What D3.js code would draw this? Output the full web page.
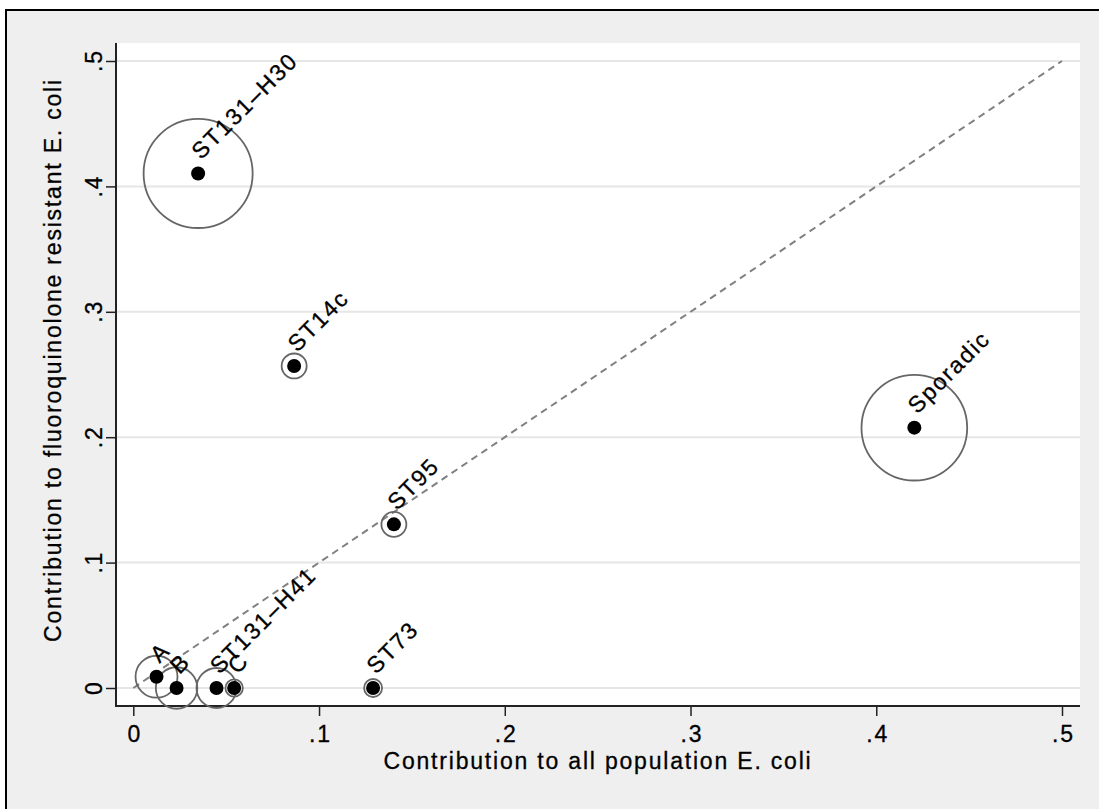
<!DOCTYPE html>
<html>
<head>
<meta charset="utf-8">
<script src="https://cdn.jsdelivr.net/npm/d3@7"></script>
<style>
    body { margin: 0; background: #fff; }
    text { font-family: "Liberation Sans", Arial, Helvetica, sans-serif; fill: #000; }
    .lbl { font-size: 23px; letter-spacing: 1.8px; stroke: #000; stroke-width: 0.3px; }
</style>
</head>
<body>
<div id="scatter"></div>
<script>
// Data
const clones = ["A", "B", "ST131\u2013H41", "C", "ST73", "ST14c", "ST95", "ST131\u2013H30", "Sporadic"];
const allPop = [0.0125, 0.0233, 0.0448, 0.0543, 0.1291, 0.0866, 0.1403, 0.0349, 0.4205];
const fqResistant = [0.009, 0, 0, 0, 0, 0.2568, 0.1305, 0.4103, 0.2076];
const weights = [0.044, 0.043, 0.040, 0.0076, 0.0081, 0.0156, 0.0156, 0.297, 0.279];
const tickValues = [0, 0.1, 0.2, 0.3, 0.4, 0.5];
const tickLabels = ["0", ".1", ".2", ".3", ".4", ".5"];

const data = clones.map((c, i) => ({ name: c, x: allPop[i], y: fqResistant[i], w: weights[i] }));

const width = 1099, height = 809;
const plot = { left: 116, right: 1080, top: 43, bottom: 706 };

const svg = d3.select("#scatter")
    .append("svg")
    .attr("width", width)
    .attr("height", height);

// Outer graph region (grey) with border
svg.append("rect")
    .attr("x", 6).attr("y", 10)
    .attr("width", 1200).attr("height", 900)
    .attr("fill", "#efefef")
    .attr("stroke", "#000")
    .attr("stroke-width", 2);

// Plot region
svg.append("rect")
    .attr("x", plot.left).attr("y", plot.top)
    .attr("width", plot.right - plot.left)
    .attr("height", plot.bottom - plot.top)
    .attr("fill", "#fff");

const xScale = d3.scaleLinear().domain([0, 0.5]).range([133.3, 1062]);
const yScale = d3.scaleLinear().domain([0, 0.5]).range([688, 61]);
const rScale = d3.scaleSqrt().domain([0, 0.3]).range([0, 54.8]);
const fmt = d => tickLabels[tickValues.indexOf(d)];

// Gridlines
svg.append("g")
    .selectAll("line")
    .data(tickValues)
    .join("line")
    .attr("x1", plot.left).attr("x2", plot.right)
    .attr("y1", d => yScale(d)).attr("y2", d => yScale(d))
    .attr("stroke", "#e6e6e6")
    .attr("stroke-width", 2);

// Axes
const bottomAxis = d3.axisBottom(xScale)
    .tickValues(tickValues)
    .tickFormat(fmt)
    .tickSize(10)
    .tickPadding(9.5);
const xAxis = svg.append("g")
    .attr("transform", `translate(0,${plot.bottom})`)
    .call(bottomAxis);
xAxis.select(".domain").remove();
xAxis.selectAll("line").attr("stroke", "#222").attr("stroke-width", 1.5);
xAxis.selectAll("text")
    .attr("class", "lbl")
    .attr("font-size", null).attr("font-family", null)
    .attr("dx", "0.9px");

const leftAxis = d3.axisLeft(yScale)
    .tickValues(tickValues)
    .tickFormat(fmt)
    .tickSize(10);
const yAxis = svg.append("g")
    .attr("transform", `translate(${plot.left},0)`)
    .call(leftAxis);
yAxis.select(".domain").remove();
yAxis.selectAll("line").attr("stroke", "#222").attr("stroke-width", 1.5);
yAxis.selectAll("text")
    .attr("class", "lbl")
    .attr("font-size", null).attr("font-family", null)
    .attr("x", 0).attr("dy", 0).attr("dx", "0.9px")
    .attr("text-anchor", "middle")
    .attr("transform", "translate(-14,0) rotate(-90)");

// Axis lines
svg.append("line")
    .attr("x1", plot.left).attr("x2", plot.left)
    .attr("y1", plot.top).attr("y2", plot.bottom + 1)
    .attr("stroke", "#222").attr("stroke-width", 2);
svg.append("line")
    .attr("x1", plot.left - 1).attr("x2", plot.right)
    .attr("y1", plot.bottom).attr("y2", plot.bottom)
    .attr("stroke", "#222").attr("stroke-width", 2);

// Axis titles
svg.append("text")
    .attr("class", "lbl")
    .attr("x", 598).attr("y", 769)
    .attr("text-anchor", "middle")
    .text("Contribution to all population E. coli");

svg.append("text")
    .attr("class", "lbl")
    .attr("text-anchor", "middle")
    .attr("transform", "translate(61,360) rotate(-90)")
    .text("Contribution to fluoroquinolone resistant E. coli");

// Equality line
svg.append("line")
    .attr("x1", xScale(0)).attr("y1", yScale(0))
    .attr("x2", xScale(0.5)).attr("y2", yScale(0.5))
    .attr("stroke", "#808080")
    .attr("stroke-width", 2)
    .attr("stroke-dasharray", "7,5");

// Weighted hollow circles
svg.append("g")
    .selectAll("circle")
    .data(data)
    .join("circle")
    .attr("cx", d => xScale(d.x))
    .attr("cy", d => yScale(d.y))
    .attr("r", d => rScale(d.w))
    .attr("fill", "none")
    .attr("stroke", "#666")
    .attr("stroke-width", 1.8);

// Solid points
svg.append("g")
    .selectAll("circle")
    .data(data)
    .join("circle")
    .attr("cx", d => xScale(d.x))
    .attr("cy", d => yScale(d.y))
    .attr("r", 7)
    .attr("fill", "#000");

// Rotated labels
svg.append("g")
    .selectAll("text")
    .data(data)
    .join("text")
    .attr("class", "lbl")
    .attr("transform", d => `translate(${xScale(d.x) + 3},${yScale(d.y) - 13}) rotate(-45)`)
    .text(d => d.name);
</script>
</body>
</html>
